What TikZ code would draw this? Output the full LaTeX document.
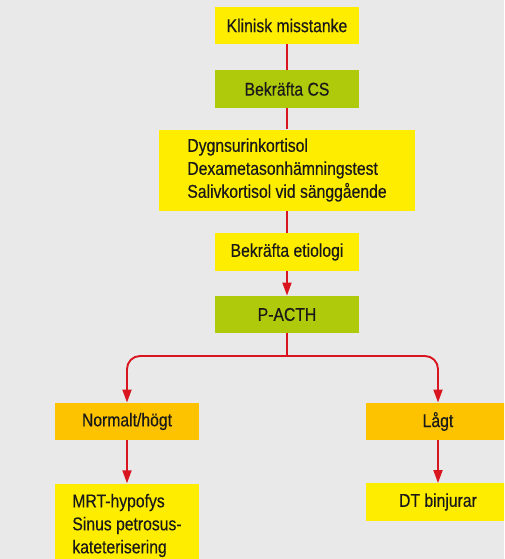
\documentclass[tikz,border=0pt]{standalone}
\usepackage{fontspec}
\setmainfont[FakeStretch=0.85,FakeBold=0.35]{Liberation Sans}
\usetikzlibrary{arrows.meta}
\definecolor{bg}{HTML}{E9E9E9}
\definecolor{yel}{HTML}{FFED00}
\definecolor{grn}{HTML}{AFCA0B}
\definecolor{org}{HTML}{FDC300}
\definecolor{lred}{HTML}{D9161F}
\begin{document}
\begin{tikzpicture}[x=1pt,y=-1pt,
  box/.style={inner sep=0pt, minimum width=144pt, minimum height=37.5pt,
    font=\fontsize{18.5}{23}\selectfont, text=black!90, align=left},
  ybox/.style={box, fill=yel},
  gbox/.style={box, fill=grn},
  obox/.style={box, fill=org},
  conn/.style={draw=lred, line width=1.9pt},
  arr/.style={conn, -{Triangle[length=13pt,width=9pt]}}]
\useasboundingbox (0,0) rectangle (504,559);
\clip (0,0) rectangle (504,559);
\fill[bg] (0,0) rectangle (504,559);
\node[ybox] (k) at (287,25.5) {Klinisk misstanke};
\node[gbox] (cs) at (287,89) {Bekräfta CS};
\node[ybox, minimum width=256pt, minimum height=81pt] (t) at (287,170)
  {Dygnsurinkortisol\\Dexametasonhämningstest\\Salivkortisol vid sänggående};
\node[ybox] (e) at (287,252) {Bekräfta etiologi};
\node[gbox] (p) at (287,314.5) {P-ACTH};
\node[obox] (n) at (127,421.5) {Normalt/högt};
\node[ybox, minimum height=84pt] (m) at (127,525.5) {MRT-hypofys\\Sinus petrosus-\\kateterisering};
\node[obox] (l) at (438,421.5) {Lågt};
\node[ybox] (d) at (438,502) {DT binjurar};
\coordinate (br) at (287,356);
\draw[conn] (k) -- (cs);
\draw[conn] (cs) -- (t);
\draw[conn] (t) -- (e);
\draw[arr] (e) -- (p);
\draw[conn] (p.south) -- (br);
\draw[arr, rounded corners=13pt] (br) -| (n.north);
\draw[arr, rounded corners=13pt] (br) -| (l.north);
\draw[arr] (n) -- (m);
\draw[arr] (l) -- (d);
\end{tikzpicture}
\end{document}
